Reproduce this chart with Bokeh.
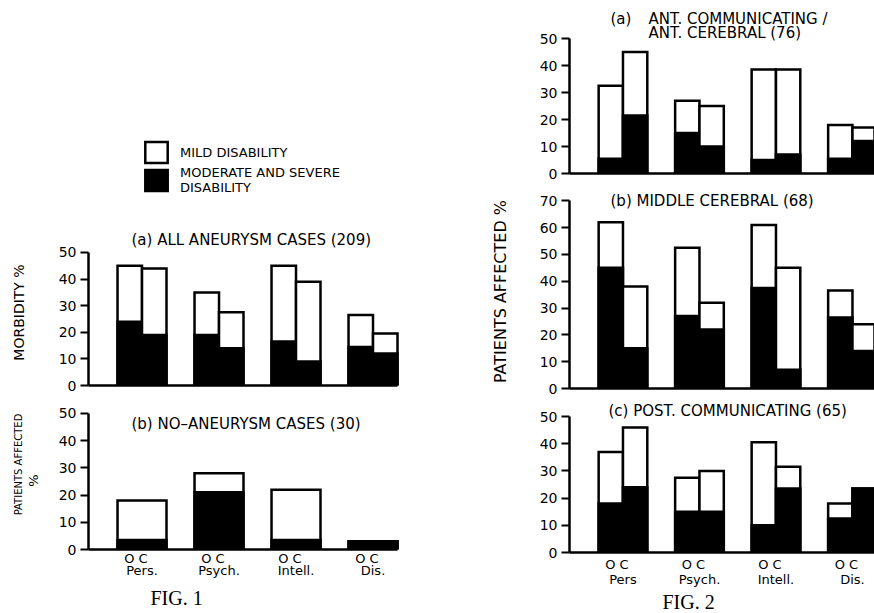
import math
from bokeh.plotting import figure
from bokeh.layouts import row, column
from bokeh.models import (LinearAxis, FixedTicker, Range1d, Legend, LegendItem,
                          Title, ColumnDataSource, Label, CustomJSTickFormatter)
from bokeh.embed import file_html
from bokeh.resources import INLINE

# ---------------- data ----------------
categories_fig1 = ["Pers.", "Psych.", "Intell.", "Dis."]
categories_fig2 = ["Pers", "Psych.", "Intell.", "Dis."]
oc_labels = ["O C", "O C", "O C", "O C"]
legend_labels = ["MILD DISABILITY", "MODERATE AND SEVERE\nDISABILITY"]

# Fig. 1 (a) all aneurysm cases (209)  -- total affected / moderate+severe
f1a_O_total = [45, 35, 45, 26.5]
f1a_O_severe = [24, 19, 16.5, 14.5]
f1a_C_total = [44, 27.5, 39, 19.5]
f1a_C_severe = [19, 14, 9, 12]

# Fig. 1 (b) no-aneurysm cases (30)
f1b_total = [18, 28, 22, 3]
f1b_severe = [3.5, 21, 3.5, 3]

# Fig. 2 (a) ant. communicating / ant. cerebral (76)
f2a_O_total = [32.5, 27, 38.5, 18]
f2a_O_severe = [5.5, 15, 5, 5.5]
f2a_C_total = [45, 25, 38.5, 17]
f2a_C_severe = [21.5, 10, 7, 12]

# Fig. 2 (b) middle cerebral (68)
f2b_O_total = [62, 52.5, 61, 36.5]
f2b_O_severe = [45, 27, 37.5, 26.5]
f2b_C_total = [38, 32, 45, 24]
f2b_C_severe = [15, 22, 7, 14]

# Fig. 2 (c) post. communicating (65)
f2c_O_total = [37, 27.5, 40.5, 18]
f2c_O_severe = [18, 15, 10, 12.5]
f2c_C_total = [46, 30, 31.5, 23.5]
f2c_C_severe = [24, 15, 23.5, 23.5]

titles = {
    "f1a": "(a)  ALL ANEURYSM CASES  (209)",
    "f1b": "(b)  NO\u2013ANEURYSM CASES  (30)",
    "f2a0": "(a)",
    "f2a1": "ANT. COMMUNICATING /",
    "f2a2": "ANT. CEREBRAL  (76)",
    "f2b": "(b)  MIDDLE CEREBRAL  (68)",
    "f2c": "(c)  POST. COMMUNICATING  (65)",
}
ylabels = {"f1a": "MORBIDITY %", "f1b": "PATIENTS AFFECTED", "f1b_pct": "%",
           "f2": "PATIENTS AFFECTED %"}
captions = ["FIG. 1", "FIG. 2"]

FONT = "DejaVu Sans"
BAR_W = 0.318
LW = 2.5
H = 613
ROT = math.pi / 2
groups = list(range(1, len(categories_fig1) + 1))


def make_panel(width, height, bl, br, bb, x_start, x_end, y_end, y_max):
    p = figure(width=width, height=height, x_range=Range1d(x_start, x_end),
               y_range=Range1d(0, y_end), x_axis_type=None, y_axis_type=None,
               toolbar_location=None, output_backend="svg",
               min_border_left=bl, min_border_right=br, min_border_top=0,
               min_border_bottom=bb)
    p.outline_line_color = None
    p.background_fill_color = "white"
    p.border_fill_color = "white"
    ya = LinearAxis(ticker=FixedTicker(ticks=list(range(0, y_max + 1, 10))),
                    bounds=(0, y_max))
    ya.axis_line_width = LW
    ya.major_tick_line_width = 2
    ya.major_tick_out = 8
    ya.major_tick_in = 0
    ya.minor_tick_out = 0
    ya.minor_tick_in = 0
    ya.major_label_standoff = 4
    ya.major_label_text_font = FONT
    ya.major_label_text_font_size = "14px"
    ya.major_label_text_color = "black"
    p.add_layout(ya, "left")
    return p


def make_gutter(width):
    g = figure(width=width, height=H, x_range=Range1d(0, width),
               y_range=Range1d(0, H), x_axis_type=None, y_axis_type=None,
               toolbar_location=None, output_backend="svg", min_border=0)
    g.outline_line_color = None
    g.background_fill_color = "white"
    g.border_fill_color = "white"
    return g


def baseline_axis(p, x_start, x_last, labels=None, standoff=1):
    ticks = [g - 0.08 for g in groups] if labels else []
    xa = LinearAxis(ticker=FixedTicker(ticks=ticks), bounds=(x_start, x_last))
    xa.axis_line_width = LW
    xa.major_tick_out = 0
    xa.major_tick_in = 0
    xa.minor_tick_out = 0
    xa.minor_tick_in = 0
    xa.major_label_standoff = standoff
    xa.major_label_text_font = FONT
    xa.major_label_text_font_size = "13px"
    xa.major_label_text_color = "black"
    if labels:
        xa.formatter = CustomJSTickFormatter(args=dict(labels=labels),
                                             code="return labels[index];")
    p.add_layout(xa, "below")


def category_axis(p, labels, standoff=0):
    xa = LinearAxis(ticker=FixedTicker(ticks=[float(g) for g in groups]))
    xa.axis_line_color = None
    xa.major_tick_out = 0
    xa.major_tick_in = 0
    xa.minor_tick_out = 0
    xa.minor_tick_in = 0
    xa.major_label_standoff = standoff
    xa.major_label_text_font = FONT
    xa.major_label_text_font_size = "13px"
    xa.major_label_text_color = "black"
    xa.formatter = CustomJSTickFormatter(args=dict(labels=labels),
                                         code="return labels[index];")
    p.add_layout(xa, "below")


def add_bars(p, offset, width, totals, severes):
    src = ColumnDataSource(dict(x=[g + offset for g in groups],
                                total=totals, severe=severes))
    r1 = p.vbar(x="x", top="total", width=width, source=src,
                fill_color="white", line_color="black", line_width=LW,
                line_join="miter")
    r2 = p.vbar(x="x", top="severe", width=width, source=src,
                fill_color="black", line_color="black", line_width=LW,
                line_join="miter")
    return r1, r2


def add_text(p, x, y, text, size="15px", align="left", angle=0.0):
    p.add_layout(Label(x=x, y=y, text=text, text_font=FONT, text_font_size=size,
                       text_baseline="middle", text_align=align, angle=angle,
                       text_color="black"))


def add_caption(p, text, offset, standoff):
    p.add_layout(Title(text=text, align="left", offset=offset,
                       text_font="Liberation Serif", text_font_size="20px",
                       text_font_style="normal", text_color="black",
                       standoff=standoff), "below")


# ---------------- gutters holding the vertical axis titles ----------------
g1 = make_gutter(40)
add_text(g1, 18, H - 312, ylabels["f1a"], size="14px", align="center", angle=ROT)
add_text(g1, 18, H - 464, ylabels["f1b"], size="10px", align="center", angle=ROT)
add_text(g1, 33, H - 480, ylabels["f1b_pct"], size="13px", align="center", angle=ROT)

g2 = make_gutter(35)
add_text(g2, 20, H - 291, ylabels["f2"], size="16px", align="center", angle=ROT)

# ---------------- Fig. 1 ----------------
X1_START, X1_END = 0.305, 5.266
x_last = groups[-1] + BAR_W

f1a = make_panel(440, 395, 48, 10, 10, X1_START, X1_END, 144.7, 50)
ra_w, ra_b = add_bars(f1a, -BAR_W / 2, BAR_W, f1a_O_total, f1a_O_severe)
add_bars(f1a, BAR_W / 2, BAR_W, f1a_C_total, f1a_C_severe)
baseline_axis(f1a, X1_START, x_last)
add_text(f1a, 0.863, 54.5, titles["f1a"])
legend = Legend(items=[LegendItem(label=legend_labels[0], renderers=[ra_w]),
                       LegendItem(label=legend_labels[1], renderers=[ra_b])],
                location=(54, 190), orientation="vertical",
                glyph_width=28, glyph_height=26, label_height=26, spacing=-8,
                padding=0, margin=0, label_standoff=10,
                border_line_color=None, background_fill_alpha=0,
                label_text_font=FONT, label_text_font_size="13px",
                label_text_color="black")
f1a.add_layout(legend)

f1b = make_panel(440, 218, 48, 10, 64, X1_START, X1_END, 56.6, 50)
add_bars(f1b, 0, 2 * BAR_W, f1b_total, f1b_severe)
baseline_axis(f1b, X1_START, x_last, labels=oc_labels, standoff=1)
category_axis(f1b, categories_fig1, standoff=-6)
add_text(f1b, 0.863, 46.3, titles["f1b"])
add_caption(f1b, captions[0], 62, 9)

# ---------------- Fig. 2 ----------------
X2_START, X2_END = 0.301, 4.288

f2a = make_panel(359, 185, 54, 0, 12, X2_START, X2_END, 64.1, 50)
add_bars(f2a, -BAR_W / 2, BAR_W, f2a_O_total, f2a_O_severe)
add_bars(f2a, BAR_W / 2, BAR_W, f2a_C_total, f2a_C_severe)
baseline_axis(f2a, X2_START, x_last)
add_text(f2a, 0.837, 57.4, titles["f2a0"])
add_text(f2a, 1.334, 57.4, titles["f2a1"])
add_text(f2a, 1.334, 52.2, titles["f2a2"])

f2b = make_panel(359, 212, 54, 0, 9, X2_START, X2_END, 75.7, 70)
add_bars(f2b, -BAR_W / 2, BAR_W, f2b_O_total, f2b_O_severe)
add_bars(f2b, BAR_W / 2, BAR_W, f2b_C_total, f2b_C_severe)
baseline_axis(f2b, X2_START, x_last)
add_text(f2b, 0.837, 70.1, titles["f2b"])

f2c = make_panel(359, 216, 54, 0, 61, X2_START, X2_END, 57.0, 50)
add_bars(f2c, -BAR_W / 2, BAR_W, f2c_O_total, f2c_O_severe)
add_bars(f2c, BAR_W / 2, BAR_W, f2c_C_total, f2c_C_severe)
baseline_axis(f2c, X2_START, x_last, labels=oc_labels, standoff=4)
category_axis(f2c, categories_fig2, standoff=-3)
add_text(f2c, 0.811, 52.2, titles["f2c"])
add_caption(f2c, captions[1], 93, -1)

layout = row(g1, column(f1a, f1b, spacing=0), g2,
             column(f2a, f2b, f2c, spacing=0), spacing=0)

open("out.html", "w").write(file_html(layout, INLINE))
